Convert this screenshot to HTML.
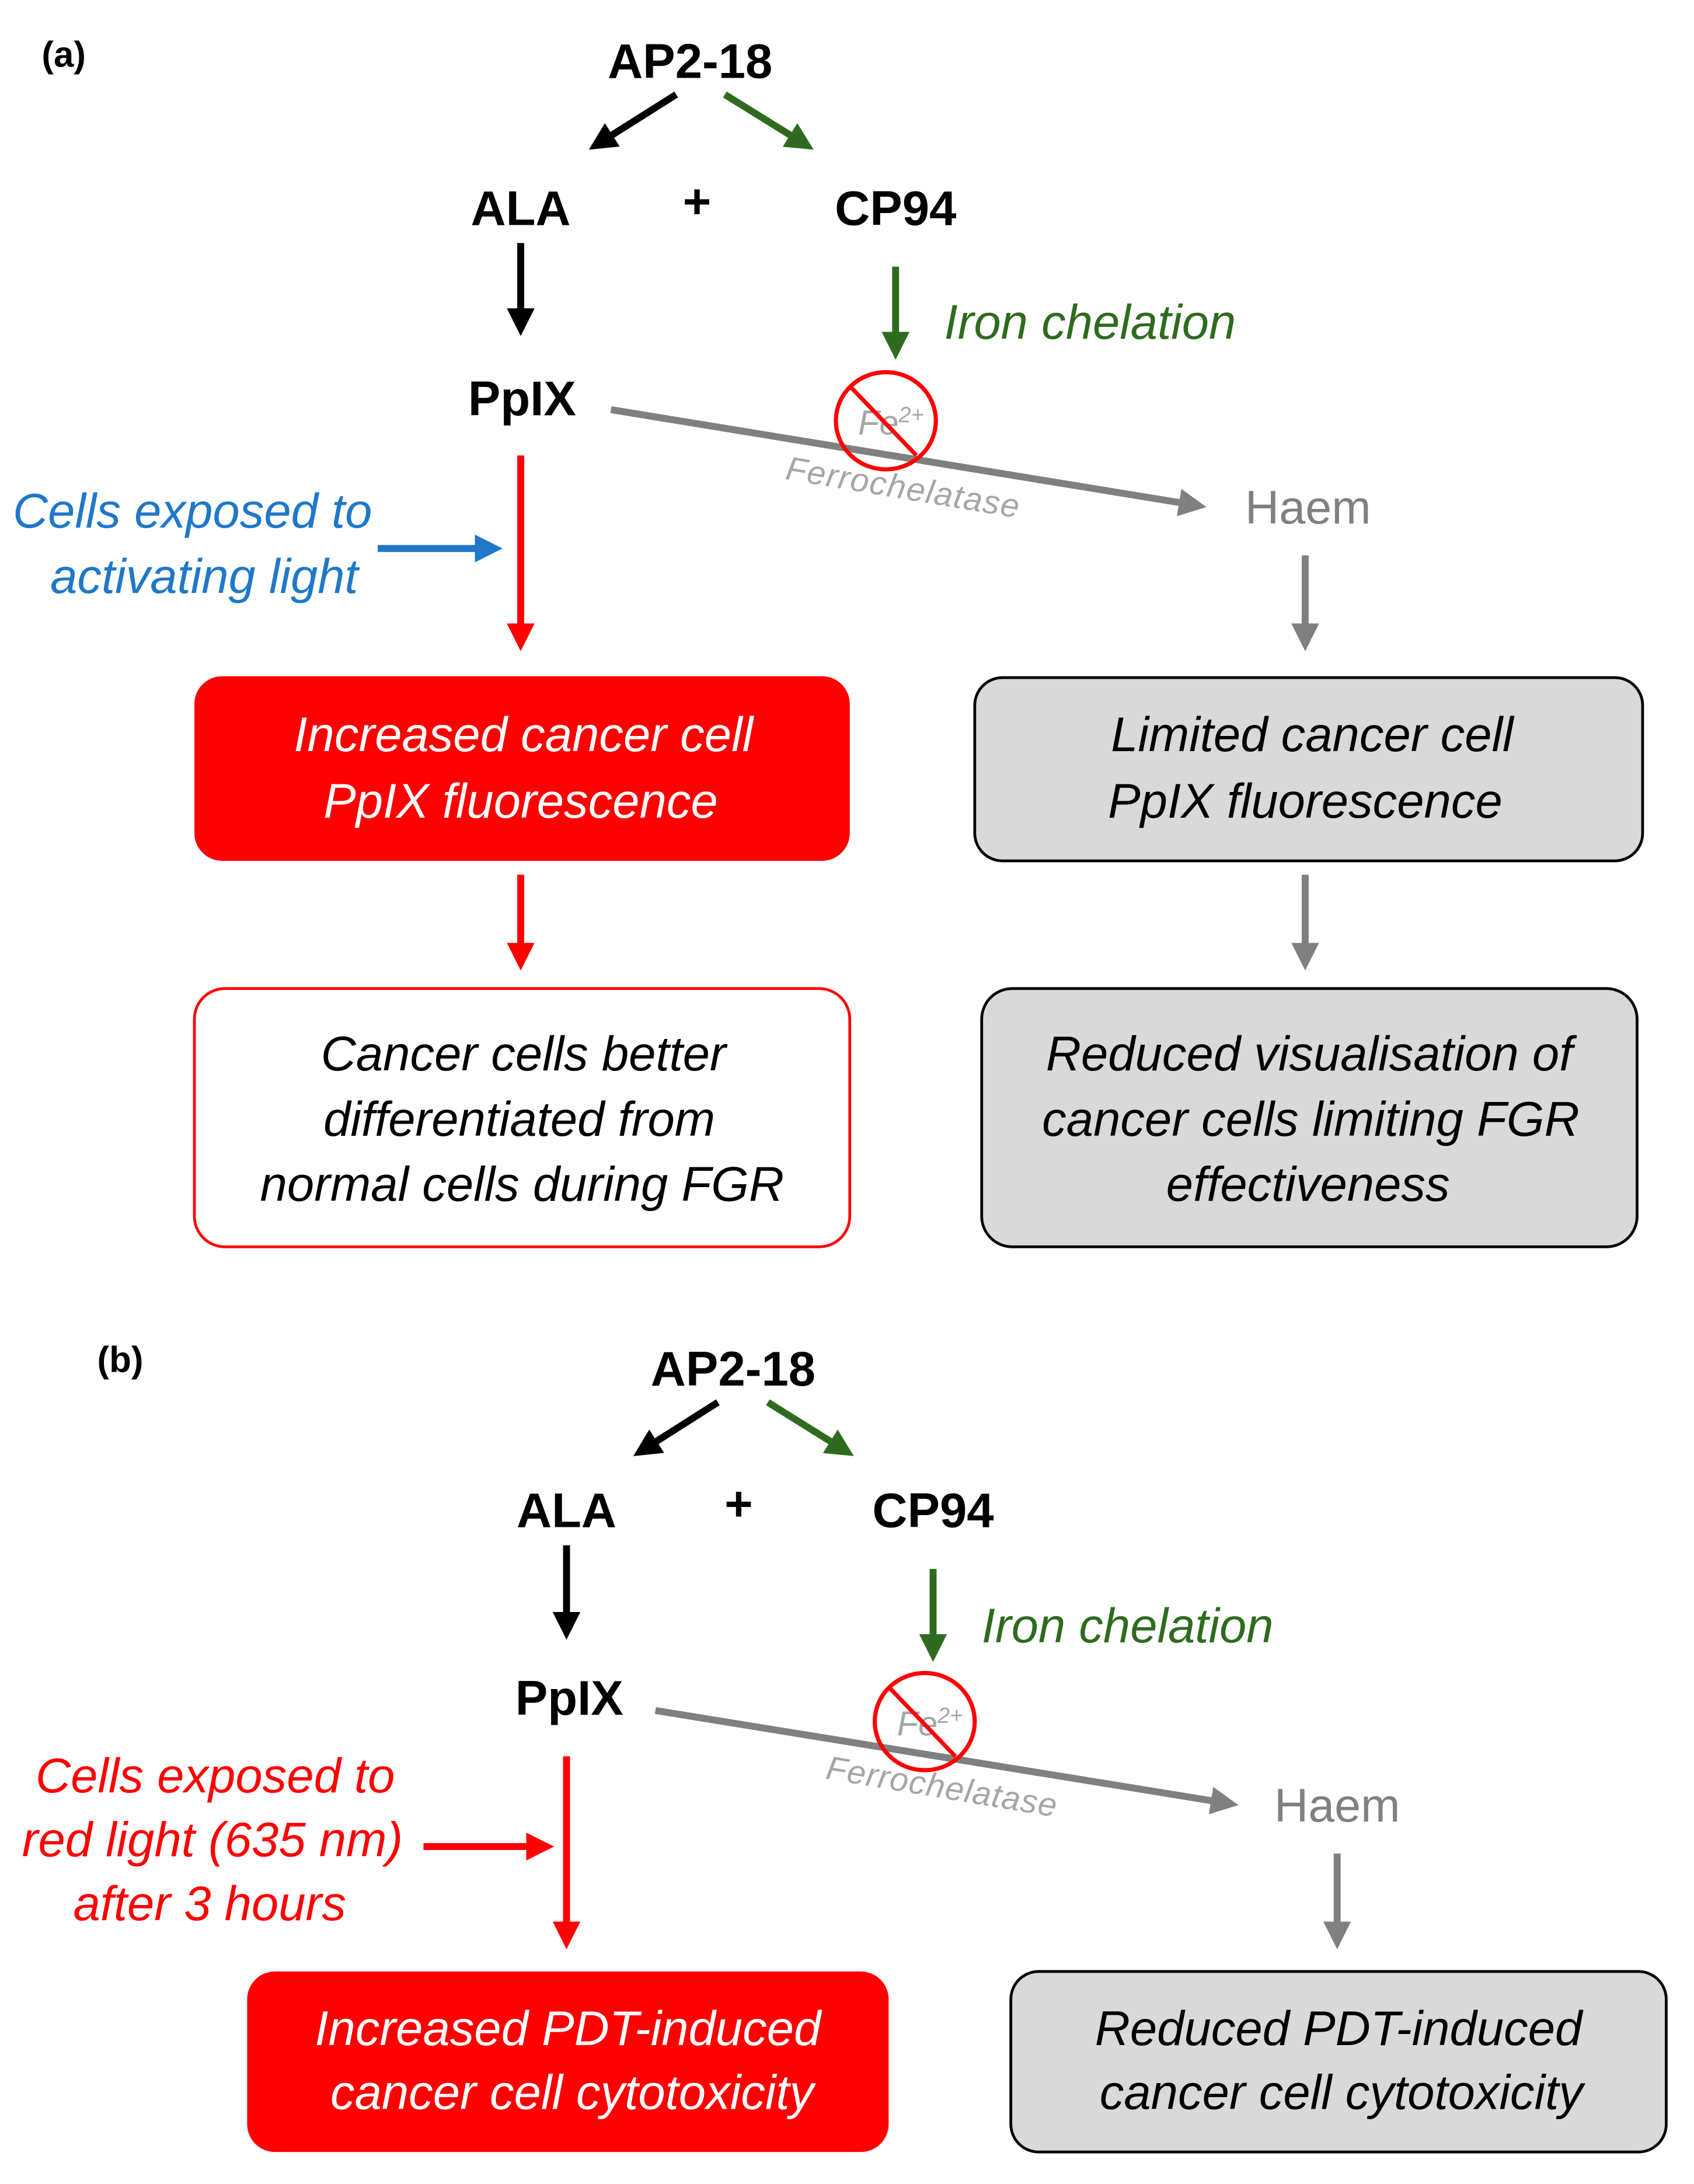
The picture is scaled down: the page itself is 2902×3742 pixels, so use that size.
<!DOCTYPE html>
<html><head><meta charset="utf-8"><style>
html,body{margin:0;padding:0;background:#fff}
svg{display:block}
text{font-family:"Liberation Sans",sans-serif}
.b{font-weight:bold;font-size:35px;text-anchor:middle}
.i{font-style:italic;font-size:35px}
</style></head><body>
<svg width="2902" height="3742" viewBox="0 0 1220 1573" xmlns="http://www.w3.org/2000/svg">
<defs>
<marker id="mk" markerWidth="4" markerHeight="4" refX="2.6" refY="2" orient="auto" markerUnits="strokeWidth"><path d="M0,0 L4,2 L0,4 Z" fill="#000"/></marker>
<marker id="mg" markerWidth="4" markerHeight="4" refX="2.6" refY="2" orient="auto" markerUnits="strokeWidth"><path d="M0,0 L4,2 L0,4 Z" fill="#2e6b1e"/></marker>
<marker id="mr" markerWidth="4" markerHeight="4" refX="2.6" refY="2" orient="auto" markerUnits="strokeWidth"><path d="M0,0 L4,2 L0,4 Z" fill="#ff0000"/></marker>
<marker id="mgr" markerWidth="4" markerHeight="4" refX="2.6" refY="2" orient="auto" markerUnits="strokeWidth"><path d="M0,0 L4,2 L0,4 Z" fill="#808080"/></marker>
<marker id="mb" markerWidth="4" markerHeight="4" refX="2.6" refY="2" orient="auto" markerUnits="strokeWidth"><path d="M0,0 L4,2 L0,4 Z" fill="#1f78c8"/></marker>
</defs>
<g stroke-width="5" fill="none">
<line x1="487" y1="68" x2="430" y2="104" stroke="#000" marker-end="url(#mk)"/>
<line x1="522" y1="68" x2="580" y2="104" stroke="#2e6b1e" marker-end="url(#mg)"/>
<line x1="375" y1="175" x2="375" y2="235" stroke="#000" marker-end="url(#mk)"/>
<line x1="645" y1="192" x2="645" y2="252" stroke="#2e6b1e" marker-end="url(#mg)"/>
<line x1="440" y1="295" x2="862" y2="364" stroke="#808080" marker-end="url(#mgr)"/>
<line x1="272" y1="395" x2="355" y2="395" stroke="#1f78c8" marker-end="url(#mb)"/>
<line x1="375" y1="328" x2="375" y2="462" stroke="#ff0000" marker-end="url(#mr)"/>
<line x1="940" y1="400" x2="940" y2="462" stroke="#808080" marker-end="url(#mgr)"/>
<line x1="375" y1="630" x2="375" y2="692" stroke="#ff0000" marker-end="url(#mr)"/>
<line x1="940" y1="630" x2="940" y2="692" stroke="#808080" marker-end="url(#mgr)"/>
<line x1="517" y1="1010" x2="462" y2="1045" stroke="#000" marker-end="url(#mk)"/>
<line x1="553" y1="1010" x2="609" y2="1045" stroke="#2e6b1e" marker-end="url(#mg)"/>
<line x1="408" y1="1113" x2="408" y2="1174" stroke="#000" marker-end="url(#mk)"/>
<line x1="672" y1="1130" x2="672" y2="1190" stroke="#2e6b1e" marker-end="url(#mg)"/>
<line x1="472" y1="1232" x2="885" y2="1299" stroke="#808080" marker-end="url(#mgr)"/>
<line x1="305" y1="1330" x2="392" y2="1330" stroke="#ff0000" marker-end="url(#mr)"/>
<line x1="408" y1="1265" x2="408" y2="1397" stroke="#ff0000" marker-end="url(#mr)"/>
<line x1="963" y1="1335" x2="963" y2="1397" stroke="#808080" marker-end="url(#mgr)"/>
</g>
<rect x="140" y="487" width="472" height="133" rx="20" fill="#ff0000"/>
<rect x="702" y="488" width="481" height="132" rx="20" fill="#d9d9d9" stroke="#000" stroke-width="2"/>
<rect x="140" y="712" width="472" height="186" rx="22" fill="#fff" stroke="#ff0000" stroke-width="2"/>
<rect x="707" y="712" width="472" height="186" rx="22" fill="#d9d9d9" stroke="#000" stroke-width="2"/>
<rect x="178" y="1420" width="462" height="130" rx="20" fill="#ff0000"/>
<rect x="728" y="1420" width="472" height="130" rx="20" fill="#d9d9d9" stroke="#000" stroke-width="2"/>
<g>
<text x="618" y="313" font-size="25" fill="#a6a6a6" font-style="italic">Fe<tspan font-size="16" dy="-9">2+</tspan></text>
<ellipse cx="638" cy="303" rx="36" ry="35" fill="none" stroke="#ff0000" stroke-width="3"/>
<line x1="612" y1="278" x2="660" y2="328" stroke="#ff0000" stroke-width="3"/>
<text x="565" y="345" font-size="24" fill="#a6a6a6" font-style="italic" transform="rotate(9.5 565 345)" textLength="170">Ferrochelatase</text>
</g>
<g>
<text x="646" y="1250" font-size="25" fill="#a6a6a6" font-style="italic">Fe<tspan font-size="16" dy="-9">2+</tspan></text>
<ellipse cx="666" cy="1240" rx="36" ry="35" fill="none" stroke="#ff0000" stroke-width="3"/>
<line x1="640" y1="1215" x2="688" y2="1265" stroke="#ff0000" stroke-width="3"/>
<text x="594" y="1281" font-size="24" fill="#a6a6a6" font-style="italic" transform="rotate(9.5 594 1281)" textLength="168">Ferrochelatase</text>
</g>
<text x="30" y="48" font-weight="bold" font-size="26">(a)</text>
<text x="497" y="56" class="b">AP2-18</text>
<text x="375" y="162" class="b">ALA</text>
<text x="502" y="157" class="b">+</text>
<text x="645" y="162" class="b">CP94</text>
<text x="680" y="244" class="i" fill="#2e6b1e">Iron chelation</text>
<text x="376" y="299" class="b">PpIX</text>
<text x="942" y="377" font-size="34" fill="#808080" text-anchor="middle">Haem</text>
<text x="268" y="380" class="i" fill="#1f78c8" text-anchor="end">Cells exposed to</text>
<text x="258" y="427" class="i" fill="#1f78c8" text-anchor="end">activating light</text>
<text x="377" y="541" fill="#fff" class="i" text-anchor="middle">Increased cancer cell</text>
<text x="375" y="589" fill="#fff" class="i" text-anchor="middle">PpIX fluorescence</text>
<text x="945" y="541" fill="#000" class="i" text-anchor="middle">Limited cancer cell</text>
<text x="940" y="589" fill="#000" class="i" text-anchor="middle">PpIX fluorescence</text>
<text x="377" y="771" class="i" text-anchor="middle">Cancer cells better</text>
<text x="374" y="818" class="i" text-anchor="middle">differentiated from</text>
<text x="376" y="865" class="i" text-anchor="middle">normal cells during FGR</text>
<text x="943" y="771" class="i" text-anchor="middle">Reduced visualisation of</text>
<text x="944" y="818" class="i" text-anchor="middle">cancer cells limiting FGR</text>
<text x="942" y="865" class="i" text-anchor="middle">effectiveness</text>
<text x="70" y="988" font-weight="bold" font-size="26">(b)</text>
<text x="528" y="998" class="b">AP2-18</text>
<text x="408" y="1100" class="b">ALA</text>
<text x="532" y="1095" class="b">+</text>
<text x="672" y="1100" class="b">CP94</text>
<text x="707" y="1183" class="i" fill="#2e6b1e">Iron chelation</text>
<text x="410" y="1235" class="b">PpIX</text>
<text x="963" y="1312" font-size="34" fill="#808080" text-anchor="middle">Haem</text>
<text x="155" y="1291" class="i" fill="#ff0000" text-anchor="middle">Cells exposed to</text>
<text x="153" y="1337" class="i" fill="#ff0000" text-anchor="middle">red light (635 nm)</text>
<text x="151" y="1383" class="i" fill="#ff0000" text-anchor="middle">after 3 hours</text>
<text x="409" y="1473" class="i" fill="#fff" text-anchor="middle">Increased PDT-induced</text>
<text x="412" y="1519" class="i" fill="#fff" text-anchor="middle">cancer cell cytotoxicity</text>
<text x="964" y="1473" class="i" text-anchor="middle">Reduced PDT-induced</text>
<text x="966" y="1519" class="i" text-anchor="middle">cancer cell cytotoxicity</text>
</svg>
</body></html>
